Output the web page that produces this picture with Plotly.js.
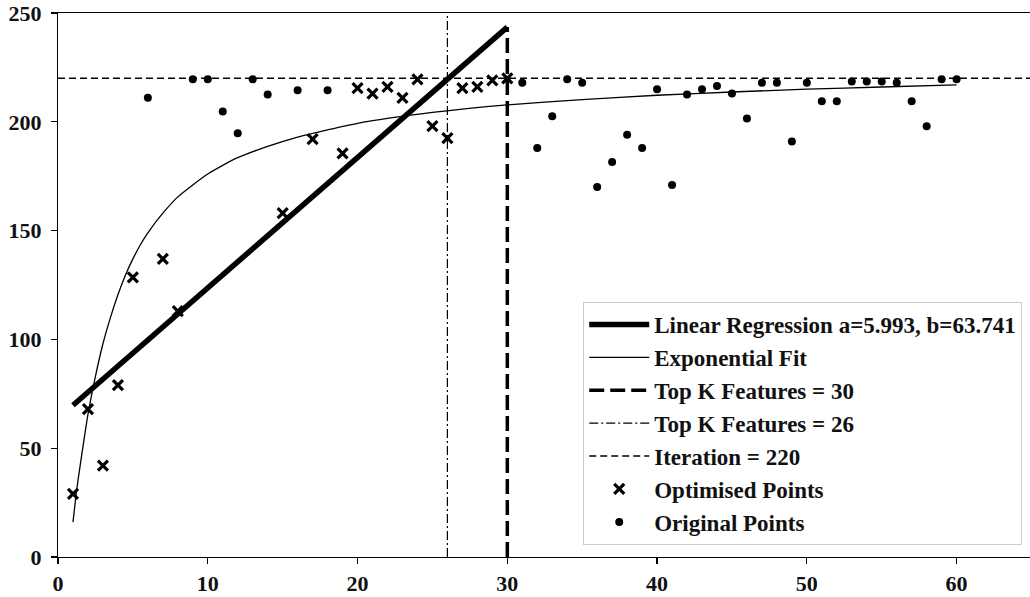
<!DOCTYPE html>
<html>
<head>
<meta charset="utf-8">
<script src="https://cdn.plot.ly/plotly-3.0.1.min.js"></script>
<style>
html,body{margin:0;padding:0;background:#fff;}
#chart{width:1030px;height:597px;}
</style>
</head>
<body>
<div id="chart"></div>
<script>
// ---- data ----
const optX = [1, 2, 3, 4, 5, 7, 8, 15, 17, 19, 20, 21, 22, 23, 24, 25, 26, 27, 28, 29, 30];
const optY = [29, 68, 42, 79, 128.5, 137, 113, 158, 192, 185.5, 215.5, 213, 216, 211, 219.5, 198, 192.5, 215.5, 216, 219, 220];

const origX = [6, 9, 10, 11, 12, 13, 14, 16, 18, 31, 32, 33, 34, 35, 36, 37, 38, 39, 40, 41, 42, 43, 44, 45, 46, 47, 48, 49, 50, 51, 52, 53, 54, 55, 56, 57, 58, 59, 60];
const origY = [211, 219.5, 219.5, 204.7, 194.7, 219.5, 212.5, 214.5, 214.5, 218, 188, 202.5, 219.5, 218, 170, 181.5, 194, 188, 215, 171, 212.5, 215, 216.5, 213, 201.5, 218, 218, 191, 218, 209.5, 209.5, 218.5, 218.5, 218.5, 218, 209.5, 198, 219.5, 219.5];

const expX = [1, 1.25, 1.5, 1.75, 2, 2.5, 3, 3.5, 4, 4.5, 5, 5.5, 6, 7, 8, 9, 10, 11, 12, 14, 16, 18, 20, 25, 30, 35, 40, 45, 50, 55, 60];
const expY = [16, 31, 43, 54.5, 65.5, 83, 98, 110, 120.5, 129.5, 137, 143.5, 149, 158, 165.5, 171, 176, 180, 183.5, 188.7, 193, 196.3, 199.3, 204.3, 207.8, 210.2, 212.2, 213.7, 215, 216, 217];

const regA = 5.993, regB = 63.741;
const regX = [1, 30];
const regY = regX.map(x => regA * x + regB);

const topK30 = 30, topK26 = 26, iterationLevel = 220;
const xMax = 64.9, yMax = 250;

const xTicks = [0, 10, 20, 30, 40, 50, 60];
const yTicks = [0, 50, 100, 150, 200, 250];

const serif = 'Liberation Serif, Times New Roman, serif';

const traces = [
  {x: regX, y: regY, mode: 'lines', name: 'Linear Regression a=5.993, b=63.741',
   line: {color: '#000', width: 5.5}},
  {x: expX, y: expY, mode: 'lines', name: 'Exponential Fit',
   line: {color: '#000', width: 1.3, shape: 'spline', smoothing: 0.6}},
  {x: [topK30, topK30], y: [0, regA * topK30 + regB], mode: 'lines', name: 'Top K Features = 30',
   line: {color: '#000', width: 3.5, dash: '15px,6px'}},
  {x: [topK26, topK26], y: [0, yMax], mode: 'lines', name: 'Top K Features = 26',
   line: {color: '#000', width: 1.2, dash: '9px,3px,2px,3px'}},
  {x: [0, xMax], y: [iterationLevel, iterationLevel], mode: 'lines', name: 'Iteration = 220',
   line: {color: '#000', width: 1.5, dash: '7px,4px'}},
  {x: optX, y: optY, mode: 'markers', name: 'Optimised Points',
   marker: {symbol: 'x-thin', size: 10, color: '#000', line: {color: '#000', width: 3.2}}},
  {x: origX, y: origY, mode: 'markers', name: 'Original Points',
   marker: {symbol: 'circle', size: 8, color: '#000'}}
];

traces.forEach((t, i) => { t.legendgroup = 'g' + i; t.hoverinfo = 'skip'; });

const layout = {
  width: 1030, height: 597,
  margin: {l: 58, r: 0, t: 13, b: 40},
  paper_bgcolor: '#fff', plot_bgcolor: '#fff',
  showlegend: true,
  legend: {
    x: 0.992, y: 0.022, xanchor: 'right', yanchor: 'bottom',
    bgcolor: '#fff', bordercolor: '#cccccc', borderwidth: 1,
    font: {family: serif, size: 23, color: '#111', weight: 'bold'},
    tracegroupgap: 0, itemwidth: 60
  },
  xaxis: {
    range: [0, xMax], tickmode: 'array', tickvals: xTicks, ticktext: xTicks.map(String),
    showgrid: false, zeroline: false, showline: true, linecolor: '#000', linewidth: 1.2,
    mirror: true, ticks: 'outside', ticklen: 6, tickcolor: '#000', tickwidth: 1.2,
    tickfont: {family: serif, size: 22, color: '#111', weight: 'bold'}
  },
  yaxis: {
    range: [0, yMax], tickmode: 'array', tickvals: yTicks, ticktext: yTicks.map(String),
    showgrid: false, zeroline: false, showline: true, linecolor: '#000', linewidth: 1.2,
    ticks: 'outside', ticklen: 6, tickcolor: '#000', tickwidth: 1.2, ticklabelstandoff: 5,
    tickfont: {family: serif, size: 22, color: '#111', weight: 'bold'}
  }
};

Plotly.newPlot('chart', traces, layout, {staticPlot: true, displayModeBar: false});
</script>
</body>
</html>
